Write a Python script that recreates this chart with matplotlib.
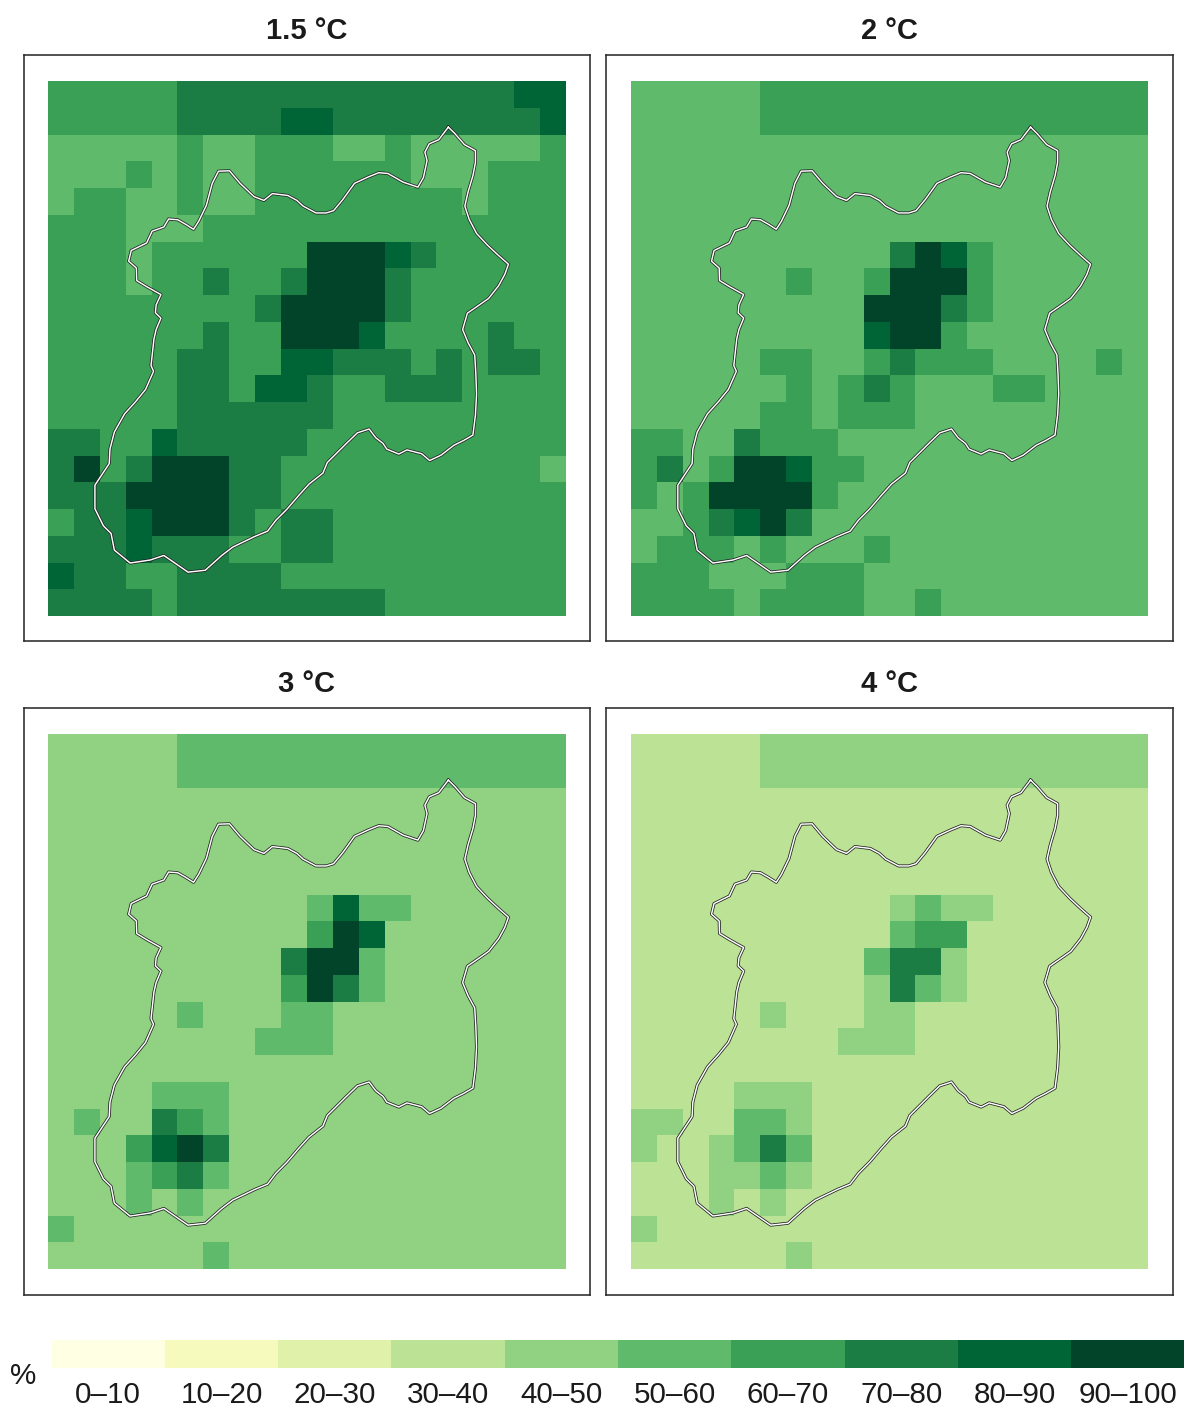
import numpy as np
import matplotlib
matplotlib.use("Agg")
import matplotlib.pyplot as plt
from matplotlib.colors import ListedColormap, BoundaryNorm
import matplotlib.patheffects as pe

plt.rcParams['font.family'] = ['Liberation Sans', 'DejaVu Sans']

W, H = 1184, 1410

class_labels = ['0–10', '10–20', '20–30', '30–40', '40–50', '50–60', '60–70', '70–80', '80–90', '90–100']
class_colors = ['#FFFFE3', '#F6FABC', '#E0F2A9', '#BCE395', '#90D182', '#5FBA6C', '#3AA056', '#1B7D44', '#006536', '#014429']
class_edges = [0, 10, 20, 30, 40, 50, 60, 70, 80, 90, 100]

panel_titles = ['1.5 °C', '2 °C', '3 °C', '4 °C']

# each digit d is the class d*10 .. d*10+10 %, one string per grid row
grid_15 = [
    '66666777777777777788',
    '66666777788777777778',
    '55555655666556555556',
    '55565655666666555666',
    '56655655666666665666',
    '66655566666666666666',
    '66656666669998766666',
    '66656676679997666666',
    '66666666799997666666',
    '66666676699986666766',
    '66666776688777676776',
    '66666776887667776666',
    '66666777777666666666',
    '77668777776666666666',
    '79679997766666666665',
    '77799997766666666666',
    '67789997677666666666',
    '77787776677666666666',
    '87766777766666666666',
    '77776777777776666666',
]
grid_2 = [
    '55555666666666666666',
    '55555666666666666666',
    '55555555555555555555',
    '55555555555555555555',
    '55555555555555555555',
    '55555555555555555555',
    '55555555557986555555',
    '55555565569996555555',
    '55555555599976555555',
    '55555555589965555555',
    '55555665567666555565',
    '55555565676555665555',
    '55555665666555555555',
    '66557666555555555555',
    '67569986655555555555',
    '65699996555555555555',
    '55678975555555555555',
    '56665655565555555555',
    '66655566655555555555',
    '66665666655655555555',
]
grid_3 = [
    '44444555555555555555',
    '44444555555555555555',
    '44444444444444444444',
    '44444444444444444444',
    '44444444444444444444',
    '44444444444444444444',
    '44444444445855444444',
    '44444444446984444444',
    '44444444479954444444',
    '44444444469754444444',
    '44444544455444444444',
    '44444444555444444444',
    '44444444444444444444',
    '44445554444444444444',
    '45447654444444444444',
    '44468974444444444444',
    '44456754444444444444',
    '44454544444444444444',
    '54444444444444444444',
    '44444454444444444444',
]
grid_4 = [
    '33333444444444444444',
    '33333444444444444444',
    '33333333333333333333',
    '33333333333333333333',
    '33333333333333333333',
    '33333333333333333333',
    '33333333334544333333',
    '33333333335663333333',
    '33333333357743333333',
    '33333333347543333333',
    '33333433344333333333',
    '33333333444333333333',
    '33333333333333333333',
    '33334443333333333333',
    '44335543333333333333',
    '43345753333333333333',
    '33344543333333333333',
    '33343433333333333333',
    '43333333333333333333',
    '33333343333333333333',
]

# catchment outline, traced; units are 1/70.65 cell across and 1/70.45 cell down
outline_x = [1092,1109,1136,1166,1166,1159,1146,1137,1149,1169,1199,1229,1256,1246,1229,1202,1174,1144,1131,1146,1164,1167,1169,1166,1159,1134,1107,1072,1041,1019,979,957,924,914,894,876,844,814,786,762,750,712,684,652,622,599,564,504,474,429,382,316,279,224,181,172,151,128,128,167,169,181,209,239,266,288,281,289,295,308,293,295,308,269,242,241,220,227,269,284,316,329,354,374,397,411,432,448,465,495,524,562,589,612,654,679,696,731,759,779,804,836,874,902,927,969,1009,1024,1034,1028,1040,1066,1092]
outline_y = [120,136,166,182,213,248,290,328,363,400,431,458,481,508,538,571,590,610,653,688,720,768,823,878,931,945,958,984,998,980,970,981,968,953,938,915,925,953,980,1003,1031,1060,1090,1126,1155,1184,1198,1226,1248,1287,1292,1248,1260,1268,1234,1190,1170,1125,1063,1006,968,923,875,843,811,763,748,678,653,623,609,588,561,540,524,491,473,445,425,394,383,362,364,375,389,368,326,268,236,235,268,303,313,295,300,313,328,346,346,340,311,268,251,240,242,265,278,253,208,186,164,153,120]

X_CELL, Y_CELL = 70.65, 70.45
CMAP = ListedColormap(class_colors)
NORM = BoundaryNorm(class_edges, CMAP.N)

fig = plt.figure(figsize=(W / 100, H / 100), dpi=100, facecolor='white')


def px_axes(x0, y0, x1, y1):
    return fig.add_axes([x0 / W, 1 - y1 / H, (x1 - x0) / W, (y1 - y0) / H])


def draw_panel(frame, cells, rows, title):
    fx0, fy0, fx1, fy1 = frame
    gx0, gy0, gx1, gy1 = cells
    ax = px_axes(fx0, fy0, fx1, fy1)
    values = np.array([[int(c) * 10 + 5 for c in r] for r in rows], dtype=float)
    edges = np.arange(values.shape[0] + 1)
    ax.pcolormesh(edges, edges, values, cmap=CMAP, norm=NORM, antialiased=False, linewidth=0)
    sx = (gx1 - gx0) / 20
    sy = (gy1 - gy0) / 20
    ax.set_xlim((fx0 - gx0) / sx, (fx1 - gx0) / sx)
    ax.set_ylim((fy1 - gy0) / sy, (fy0 - gy0) / sy)
    ax.set_xticks([])
    ax.set_yticks([])
    for s in ax.spines.values():
        s.set_linewidth(1.15)
        s.set_color('#2b2b2b')
    ax.plot(np.array(outline_x) / X_CELL, (np.array(outline_y) + 1.5) / Y_CELL,
            color='white', lw=1.05, solid_joinstyle='round',
            path_effects=[pe.Stroke(linewidth=2.2, foreground='#222222'), pe.Normal()])
    fig.text((fx0 + fx1) / 2 / W, 1 - (fy0 - 24) / H, title, ha='center', va='center',
             fontsize=21, fontweight='bold', color='#1a1a1a')


draw_panel((23.7, 54.8, 590, 641.2), (48, 81, 566, 616), grid_15, panel_titles[0])
draw_panel((606, 54.8, 1172.6, 641.2), (631, 81, 1148, 616), grid_2, panel_titles[1])
draw_panel((23.7, 708.2, 590, 1294.8), (48, 734, 566, 1269), grid_3, panel_titles[2])
draw_panel((606, 708.2, 1172.6, 1294.8), (631, 734, 1148, 1269), grid_4, panel_titles[3])

# legend strip
cax = px_axes(51.5, 1340, 1184.5, 1368)
strip = np.array([[(a + b) / 2 for a, b in zip(class_edges[:-1], class_edges[1:])]])
cax.pcolormesh(np.arange(len(class_labels) + 1), [0, 1], strip, cmap=CMAP, norm=NORM,
               antialiased=False, linewidth=0)
cax.set_xlim(0, len(class_labels))
cax.set_ylim(0, 1)
cax.set_yticks([])
cax.set_xticks(np.arange(len(class_labels)) + 0.5)
cax.set_xticklabels(class_labels, fontsize=21.3, color='#1a1a1a')
cax.tick_params(axis='x', length=0, pad=9.5)
for s in cax.spines.values():
    s.set_visible(False)
fig.text(23.5 / W, 1 - 1376 / H, '%', ha='center', va='center', fontsize=21.3, color='#1a1a1a')

fig.savefig('out.png', dpi=100, facecolor='white')
